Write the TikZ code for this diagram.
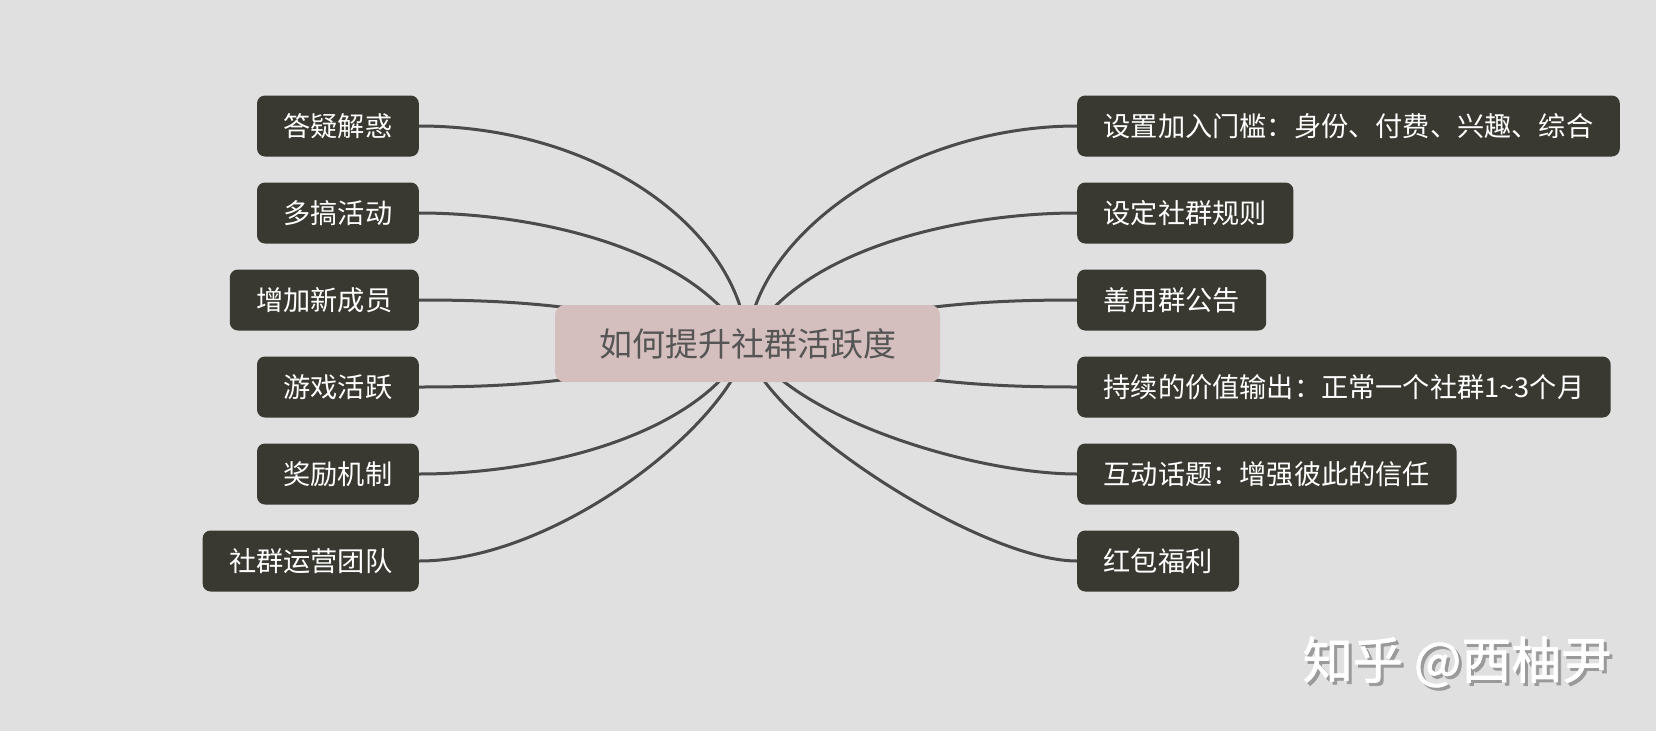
\documentclass[tikz,border=0pt]{standalone}
\usepackage{fontspec}
\setmainfont{Noto Sans CJK SC}
\newfontfamily\wmfont[FakeBold=1.5]{Noto Sans CJK SC}
\usetikzlibrary{calc}
\pgfdeclarelayer{bgl}
\pgfdeclarelayer{linesl}
\pgfsetlayers{bgl,linesl,main}
\definecolor{bgc}{HTML}{E0E0E0}
\definecolor{boxc}{HTML}{393931}
\definecolor{rootc}{HTML}{D5BFBE}
\definecolor{linec}{HTML}{4B4B4B}
\definecolor{roottext}{HTML}{555555}
\definecolor{wmshadow}{HTML}{9A9A9A}
\tikzset{
  childbox/.style={fill=boxc, rounded corners=8pt, text=white,
    font=\fontsize{27.2}{30}\selectfont, minimum height=61pt,
    inner xsep=26.5pt, inner ysep=0pt},
  rootbox/.style={fill=rootc, rounded corners=10pt, text=roottext,
    font=\fontsize{33}{38}\selectfont, minimum width=385pt,
    minimum height=77pt, inner sep=0pt},
  conn/.style={draw=linec, line width=3pt},
  wmtext/.style={font=\wmfont\fontsize{50}{54}\selectfont, inner sep=0pt},
}
\begin{document}
\begin{tikzpicture}[x=1pt,y=-1pt]
\begin{pgfonlayer}{bgl}
\fill[bgc] (0,0) rectangle (1656,731);
\end{pgfonlayer}
\useasboundingbox (0,0) rectangle (1656,731);

\node[rootbox] (root) at (747.5,343.5) {如何提升社群活跃度};

\node[childbox, anchor=east] (l1) at (419,126) {答疑解惑};
\node[childbox, anchor=east] (l2) at (419,213) {多搞活动};
\node[childbox, anchor=east] (l3) at (419,300) {增加新成员};
\node[childbox, anchor=east] (l4) at (419,387) {游戏活跃};
\node[childbox, anchor=east] (l5) at (419,474) {奖励机制};
\node[childbox, anchor=east] (l6) at (419,561) {社群运营团队};

\node[childbox, anchor=west] (r1) at (1077,126) {设置加入门槛：身份、付费、兴趣、综合};
\node[childbox, anchor=west] (r2) at (1077,213) {设定社群规则};
\node[childbox, anchor=west] (r3) at (1077,300) {善用群公告};
\node[childbox, anchor=west] (r4) at (1077,387) {持续的价值输出：正常一个社群1\textasciitilde 3个月};
\node[childbox, anchor=west] (r5) at (1077,474) {互动话题：增强彼此的信任};
\node[childbox, anchor=west] (r6) at (1077,561) {红包福利};

\begin{pgfonlayer}{linesl}
\draw[conn] (l1.east) .. controls ($(l1.east)+(181,0)$) and ($(root.center)+(-8,-113)$) .. (root.center);
\draw[conn] (l2.east) .. controls ($(l2.east)+(121,0)$) and ($(root.center)+(-48,-93)$) .. (root.center);
\draw[conn] (l3.east) .. controls ($(l3.east)+(101,0)$) and ($(root.center)+(-148,-38)$) .. (root.center);
\draw[conn] (l4.east) .. controls ($(l4.east)+(101,0)$) and ($(root.center)+(-148,38)$) .. (root.center);
\draw[conn] (l5.east) .. controls ($(l5.east)+(121,0)$) and ($(root.center)+(-48,93)$) .. (root.center);
\draw[conn] (l6.east) .. controls ($(l6.east)+(140,0)$) and ($(root.center)+(-15,77)$) .. (root.center);

\draw[conn] (r1.west) .. controls ($(r1.west)+(-170,0)$) and ($(root.center)+(6,-108)$) .. (root.center);
\draw[conn] (r2.west) .. controls ($(r2.west)+(-121,0)$) and ($(root.center)+(48,-93)$) .. (root.center);
\draw[conn] (r3.west) .. controls ($(r3.west)+(-101,0)$) and ($(root.center)+(148,-38)$) .. (root.center);
\draw[conn] (r4.west) .. controls ($(r4.west)+(-101,0)$) and ($(root.center)+(148,38)$) .. (root.center);
\draw[conn] (r5.west) .. controls ($(r5.west)+(-100,0)$) and ($(root.center)+(48,77)$) .. (root.center);
\draw[conn] (r6.west) .. controls ($(r6.west)+(-100,0)$) and ($(root.center)+(2,67)$) .. (root.center);
\end{pgfonlayer}

\node[wmtext, text=wmshadow] (wms) at (1460,665) {知乎 @西柚尹};
\node[wmtext, text=white] (wm) at (1457,662) {知乎 @西柚尹};
\end{tikzpicture}
\end{document}
